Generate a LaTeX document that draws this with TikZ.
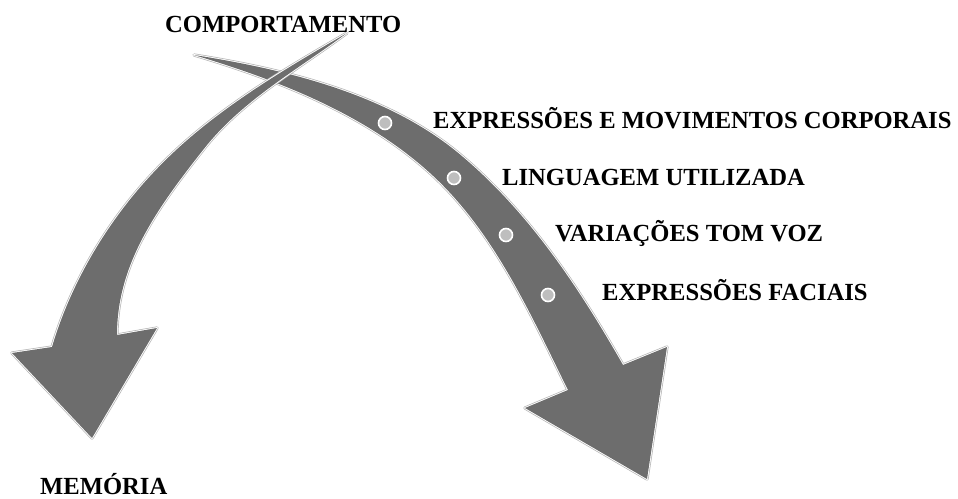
\documentclass[tikz,border=0pt]{standalone}
\usepackage{fontspec}
\setmainfont{Liberation Serif}
\definecolor{arrowgray}{HTML}{6D6D6D}
\definecolor{edgegray}{HTML}{B4B4B4}
\definecolor{dotgray}{HTML}{BEBEBE}
\tikzset{
  lbl/.style={anchor=base west, inner sep=0pt, font=\fontsize{24.6}{28}\selectfont\bfseries, text=black},
  outA/.style={draw=edgegray, line width=3.2pt, line join=round},
  outB/.style={draw=white, line width=1.8pt, line join=round},
  body/.style={fill=arrowgray},
  bead/.style={circle, fill=dotgray, draw=white, line width=1.6pt, minimum size=13pt, inner sep=0pt}
}
\def\rightarrowpath{(194,55) .. controls (289,70) and (391,95) .. (463,157)
  .. controls (530,214) and (579,288) .. (623,365)
  -- (667,347) -- (647,479) -- (525,408) -- (568,390)
  .. controls (530,313) and (494,231) .. (430,173)
  .. controls (365,114) and (278,80) .. cycle}
\def\leftarrowpath{(347,33) .. controls (278,73) and (207,115) .. (153,173)
  .. controls (107,222) and (71,283) .. (52,347)
  -- (12,353) -- (92,438) -- (157,328) -- (117,335)
  .. controls (117,267) and (153,213) .. (203,150)
  .. controls (241,101) and (297,70) .. cycle}
\begin{document}
\begin{tikzpicture}[x=1pt,y=-1pt]
\useasboundingbox (0,0) rectangle (958,498);
% right (large) arrow
\path[outA] \rightarrowpath;
\path[outB] \rightarrowpath;
\path[body] \rightarrowpath;
% beads
\node[bead] (d1) at (385,123) {};
\node[bead] (d2) at (454,178) {};
\node[bead] (d3) at (506,235) {};
\node[bead] (d4) at (548,295) {};
% left arrow (on top)
\path[outA] \leftarrowpath;
\path[outB] \leftarrowpath;
\path[body] \leftarrowpath;
% labels
\node[lbl] (comp) at (165,32) {COMPORTAMENTO};
\node[lbl] (l1) at (433,128) {EXPRESSÕES E MOVIMENTOS CORPORAIS};
\node[lbl] (l2) at (502,185) {LINGUAGEM UTILIZADA};
\node[lbl] (l3) at (555,241) {VARIAÇÕES TOM VOZ};
\node[lbl] (l4) at (602,300) {EXPRESSÕES FACIAIS};
\node[lbl] (mem) at (40,494) {MEMÓRIA};
\end{tikzpicture}
\end{document}
